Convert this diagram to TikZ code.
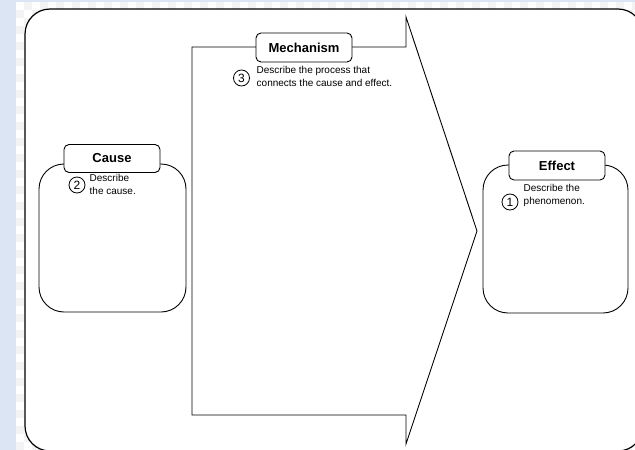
\documentclass[tikz,border=0pt]{standalone}
\usepackage{fontspec}
\setmainfont{Liberation Sans}
\definecolor{bgblue}{HTML}{DCE5F4}
\definecolor{checkgray}{HTML}{F3F3F5}
\begin{document}
\begin{tikzpicture}[x=1pt,y=-1pt,
  line/.style={draw=black,line width=0.9pt},
  labelbox/.style={line,fill=white,rounded corners=5pt,minimum width=96pt,minimum height=29pt,inner sep=0pt,font=\fontsize{13}{15}\selectfont\bfseries},
  bigbox/.style={line,fill=white,rounded corners=25pt},
  numcirc/.style={circle,draw=black,line width=0.8pt,minimum size=16pt,inner sep=0pt,font=\fontsize{12}{12}\selectfont},
  desc/.style={anchor=west,inner sep=0pt,align=left,font=\fontsize{10}{13}\selectfont}]
\useasboundingbox (0,0) rectangle (635,450);
% background
\fill[bgblue] (0,0) rectangle (635,450);
\fill[white] (16,2) rectangle (635,450);
\begin{scope}
\clip (16,2) rectangle (635,450);
\foreach \i in {0,...,77}{
  \foreach \j in {0,...,56}{
    \pgfmathtruncatemacro{\myparity}{mod(\i+\j,2)}
    \ifnum\myparity=1
      \fill[checkgray] ({16+8*\i},{2+8*\j}) rectangle ++(8,8);
    \fi
  }
}
\end{scope}
% outer frame
\draw[line,line width=1.2pt,fill=white,rounded corners=25pt] (25,9) rectangle (643,451);
% mechanism arrow
\draw[line,line join=miter] (192,47) -- (406,47) -- (406,17) -- (477,231) -- (406,444) -- (406,415) -- (192,415) -- cycle;
\node[labelbox] (mech) at (304,47.5) {Mechanism};
\node[numcirc] (c3) at (241.5,78) {3};
\node[desc] (t3) at (256.5,76.5) {Describe the process that\\connects the cause and effect.};
% cause
\draw[bigbox] (39,164) rectangle (186,312);
\node[labelbox,minimum height=28pt] (cause) at (112,158.5) {Cause};
\node[numcirc] (c2) at (77,185) {2};
\node[desc] (t2) at (89.5,184.5) {Describe\\the cause.};
% effect
\draw[bigbox] (483,165) rectangle (628,313);
\node[labelbox] (effect) at (557,165.5) {Effect};
\node[numcirc] (c1) at (510,202) {1};
\node[desc] (t1) at (523.5,195) {Describe the\\phenomenon.};
\end{tikzpicture}
\end{document}
